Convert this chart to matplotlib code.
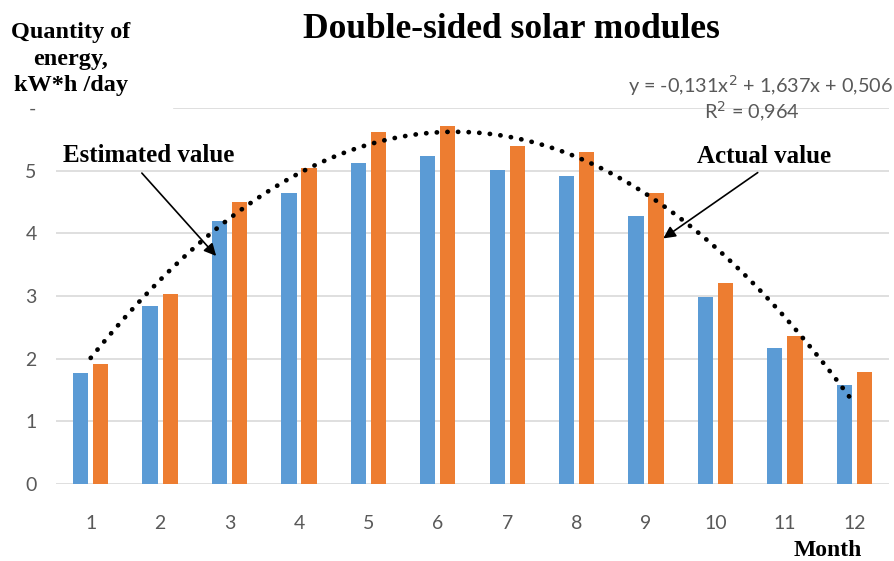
import matplotlib
matplotlib.use("Agg")
import matplotlib.pyplot as plt
import numpy as np

months = [1, 2, 3, 4, 5, 6, 7, 8, 9, 10, 11, 12]
estimated = [1.77, 2.84, 4.19, 4.64, 5.13, 5.23, 5.01, 4.91, 4.28, 2.99, 2.17, 1.58]
actual = [1.91, 3.03, 4.50, 5.05, 5.61, 5.72, 5.39, 5.29, 4.64, 3.20, 2.36, 1.79]
trend_coef = [-0.131, 1.637, 0.506]
ytick_vals = [0, 1, 2, 3, 4, 5, 6]
ytick_labels = ['0', '1', '2', '3', '4', '5', '-']

BLUE = '#5B9BD5'
ORANGE = '#ED7D31'
GREY = '#595959'
num_font = ['Lato', 'DejaVu Sans']
serif = ['Liberation Serif', 'DejaVu Serif']

fig = plt.figure(figsize=(8.95, 5.61), dpi=100)
ax = fig.add_axes([56/895, 1-484/561, 833/895, (484-108)/561])

x = np.arange(len(months))
w = 0.22
off = 0.145
ax.bar(x - off, estimated, width=w, color=BLUE, zorder=3)
ax.bar(x + off, actual, width=w, color=ORANGE, zorder=3)

xs = np.linspace(1, 12, 200)
ys = np.polyval(trend_coef, xs)
ax.plot(xs - 1, ys, color='black', linewidth=3.4, linestyle=(0, (0.05, 2.2)),
        dash_capstyle='round', zorder=4)

ax.set_xlim(-0.5, 11.5)
ax.set_ylim(0, 6)
ax.set_yticks(ytick_vals)
ax.set_yticklabels(ytick_labels, family=num_font, fontsize=14, color=GREY)
ax.set_xticks(x)
ax.set_xticklabels([str(m) for m in months], family=num_font, fontsize=14, color=GREY)
ax.tick_params(axis='both', length=0)
ax.tick_params(axis='x', pad=22)
ax.tick_params(axis='y', pad=14)
for v in ytick_vals:
    xmin = 0.142 if v == 6 else 0.0
    ax.axhline(v, xmin=xmin, xmax=1.0, color='#D9D9D9', linewidth=1.2, zorder=0)
for s in ax.spines.values():
    s.set_visible(False)

fig.text(511/895, 1-29/561, 'Double-sided solar modules', ha='center', va='center',
         family=serif, fontweight='bold', fontsize=25.5)
fig.text(71/895, 1-59/561, 'Quantity of\nenergy,\nkW*h /day', ha='center', va='center',
         family=serif, fontweight='bold', fontsize=17.5, linespacing=1.33)
fig.text(828/895, 1-550/561, 'Month', ha='center', va='center',
         family=serif, fontweight='bold', fontsize=17)

fig.text(893/895, 1-86/561, 'y = -0,131x$^2$ + 1,637x + 0,506', ha='right', va='center',
         family=num_font, fontsize=14.3, color=GREY)
fig.text(752/895, 1-112/561, 'R$^2$ = 0,964', ha='center', va='center',
         family=num_font, fontsize=14.3, color=GREY)

fig.text(149/895, 1-155/561, 'Estimated value', ha='center', va='center',
         family=serif, fontweight='bold', fontsize=18)
fig.text(764/895, 1-157/561, 'Actual value', ha='center', va='center',
         family=serif, fontweight='bold', fontsize=18)

fig.add_artist(matplotlib.patches.FancyArrowPatch(
    (140/895, 1-171/561), (218/895, 1-258/561), transform=fig.transFigure,
    arrowstyle='-|>', mutation_scale=18, color='black', linewidth=1.2))
fig.add_artist(matplotlib.patches.FancyArrowPatch(
    (760/895, 1-171/561), (661/895, 1-240/561), transform=fig.transFigure,
    arrowstyle='-|>', mutation_scale=18, color='black', linewidth=1.2))

fig.savefig('out.png', dpi=100)
